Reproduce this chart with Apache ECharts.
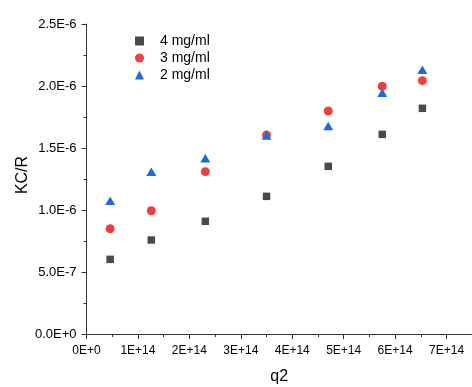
<!DOCTYPE html>
<html>
<head>
<meta charset="utf-8">
<script src="https://cdn.jsdelivr.net/npm/echarts@6/dist/echarts.min.js"></script>
<style>html,body{margin:0;padding:0;background:#fff}#c{width:472px;height:387px}</style>
</head>
<body>
<div id="c"></div>
<script>
const seriesNames = ['4 mg/ml', '3 mg/ml', '2 mg/ml'];
const q2 = [0.46e14, 1.26e14, 2.31e14, 3.50e14, 4.70e14, 5.75e14, 6.53e14];
const kc4 = [0.602e-6, 0.758e-6, 0.909e-6, 1.110e-6, 1.352e-6, 1.610e-6, 1.820e-6];
const kc3 = [0.849e-6, 0.994e-6, 1.309e-6, 1.605e-6, 1.798e-6, 1.998e-6, 2.043e-6];
const kc2 = [1.075e-6, 1.309e-6, 1.417e-6, 1.600e-6, 1.677e-6, 1.946e-6, 2.131e-6];
const xTickLabels = ['0E+0','1E+14','2E+14','3E+14','4E+14','5E+14','6E+14','7E+14','8E+14'];
const yTickLabels = ['0.0E+0','5.0E-7','1.0E-6','1.5E-6','2.0E-6','2.5E-6'];

const font = 'Liberation Sans, Arial, sans-serif';
const pairs = ys => q2.map((x, i) => [x, ys[i]]);
const chart = echarts.init(document.getElementById('c'), null, {renderer: 'canvas'});
const axisCommon = {
  axisLine: {show: true, lineStyle: {color: '#333', width: 1}},
  axisTick: {show: true, inside: false, length: 5, lineStyle: {color: '#333'}},
  minorTick: {show: true, splitNumber: 2, length: 3, lineStyle: {color: '#333'}},
  splitLine: {show: false},
  minorSplitLine: {show: false},
  nameLocation: 'middle',
  nameMoveOverlap: false
};
chart.setOption({
  animation: false,
  backgroundColor: '#fff',
  grid: {left: 86.5, right: -26, top: 24, bottom: 53, containLabel: false, outerBoundsMode: 'none'},
  xAxis: Object.assign({}, axisCommon, {
    type: 'value', min: 0, max: 8e14, interval: 1e14,
    name: 'q2', nameGap: 35,
    nameTextStyle: {fontFamily: font, fontSize: 16, color: '#000', padding: [0, 26, 0, 0]},
    axisLabel: {fontFamily: font, fontSize: 12, color: '#000', margin: 11,
      formatter: v => xTickLabels[Math.round(v / 1e14)] || ''}
  }),
  yAxis: Object.assign({}, axisCommon, {
    type: 'value', min: 0, max: 2.5e-6, interval: 5e-7,
    name: 'KC/R', nameGap: 56,
    nameTextStyle: {fontFamily: font, fontSize: 16, color: '#000', padding: [0, 0, 0, 8]},
    axisLabel: {fontFamily: font, fontSize: 13, color: '#000', margin: 10,
      formatter: v => yTickLabels[Math.round(v / 5e-7)] || ''}
  }),
  legend: {
    orient: 'vertical', left: 130, top: 29, itemWidth: 9, itemHeight: 9, itemGap: 3,
    textStyle: {fontFamily: font, fontSize: 14, color: '#000', padding: [0, 0, 0, 11]},
    data: [{name: seriesNames[0], icon: 'rect'}, {name: seriesNames[1], icon: 'circle'}, {name: seriesNames[2], icon: 'triangle'}]
  },
  series: [
    {name: seriesNames[0], type: 'scatter', symbol: 'rect', symbolSize: 7.5, itemStyle: {color: '#4a4a4a', opacity: 1}, data: pairs(kc4)},
    {name: seriesNames[1], type: 'scatter', symbol: 'circle', symbolSize: 9, itemStyle: {color: '#ef4040', opacity: 1}, data: pairs(kc3)},
    {name: seriesNames[2], type: 'scatter', symbol: 'triangle', symbolSize: [10, 8.5], itemStyle: {color: '#1e6ae0', opacity: 1}, data: pairs(kc2)}
  ]
});
</script>
</body>
</html>
